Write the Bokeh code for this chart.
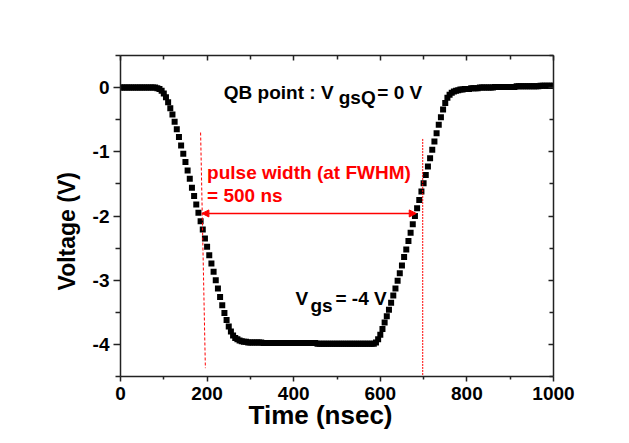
from bokeh.plotting import figure
from bokeh.models import (LinearAxis, FixedTicker, Range1d, Arrow, NormalHead, Title)
from bokeh.core.properties import value
from bokeh.embed import file_html
from bokeh.resources import INLINE

# ---------------- data ----------------
time_ns = [
    0, 5, 10, 15, 20, 25, 30, 35, 40, 45, 50, 55, 60, 65, 70, 75, 80,
    85, 90, 95, 100, 105, 110, 115, 120, 125, 130, 135, 140, 145, 150,
    155, 160, 165, 170, 175, 180, 185, 190, 195, 200, 205, 210, 215, 220,
    225, 230, 235, 240, 245, 250, 255, 260, 265, 270, 275, 280, 285, 290,
    295, 300, 305, 310, 315, 320, 325, 330, 335, 340, 345, 350, 355, 360,
    365, 370, 375, 380, 385, 390, 395, 400, 405, 410, 415, 420, 425, 430,
    435, 440, 445, 450, 455, 460, 465, 470, 475, 480, 485, 490, 495, 500,
    505, 510, 515, 520, 525, 530, 535, 540, 545, 550, 555, 560, 565, 570,
    575, 580, 585, 590, 595, 600, 605, 610, 615, 620, 625, 630, 635, 640,
    645, 650, 655, 660, 665, 670, 675, 680, 685, 690, 695, 700, 705, 710,
    715, 720, 725, 730, 735, 740, 745, 750, 755, 760, 765, 770, 775, 780,
    785, 790, 795, 800, 805, 810, 815, 820, 825, 830, 835, 840, 845, 850,
    855, 860, 865, 870, 875, 880, 885, 890, 895, 900, 905, 910, 915, 920,
    925, 930, 935, 940, 945, 950, 955, 960, 965, 970, 975, 980, 985, 990,
    995, 1000,
]
voltage = [
    0.00, 0.00, 0.00, 0.00, 0.00, 0.00, 0.00, 0.00, 0.00, 0.00, 0.00, 0.00, 0.00, 0.00, 0.00, 0.00, 0.00,
    -0.01, -0.02, -0.05, -0.09, -0.15, -0.23, -0.32, -0.42, -0.53, -0.65, -0.77, -0.90, -1.03, -1.16,
    -1.29, -1.42, -1.56, -1.69, -1.82, -1.95, -2.08, -2.21, -2.35, -2.48, -2.61, -2.74, -2.87, -3.00,
    -3.13, -3.26, -3.39, -3.51, -3.62, -3.72, -3.80, -3.86, -3.90, -3.92, -3.94, -3.95, -3.96, -3.96,
    -3.97, -3.97, -3.97, -3.97, -3.97, -3.97, -3.97, -3.98, -3.98, -3.98, -3.98, -3.98, -3.98, -3.98,
    -3.98, -3.98, -3.98, -3.98, -3.98, -3.98, -3.98, -3.98, -3.98, -3.98, -3.98, -3.98, -3.98, -3.98,
    -3.98, -3.98, -3.98, -3.98, -3.99, -3.99, -3.99, -3.99, -3.99, -3.99, -3.99, -3.99, -3.99, -3.99,
    -3.99, -3.99, -3.99, -3.99, -3.99, -3.99, -3.99, -3.99, -3.99, -3.99, -3.99, -3.99, -3.99, -3.99,
    -3.99, -3.99, -3.99, -3.97, -3.92, -3.85, -3.76, -3.66, -3.56, -3.46, -3.35, -3.24, -3.13, -3.01,
    -2.89, -2.77, -2.64, -2.52, -2.39, -2.26, -2.13, -2.00, -1.88, -1.75, -1.62, -1.49, -1.36, -1.23,
    -1.10, -0.97, -0.84, -0.71, -0.58, -0.46, -0.34, -0.24, -0.16, -0.11, -0.08, -0.06, -0.05, -0.04,
    -0.03, -0.03, -0.02, -0.02, -0.02, -0.01, -0.01, -0.01, -0.01, 0.00, 0.00, 0.00, 0.00, 0.00,
    0.00, 0.00, 0.01, 0.01, 0.01, 0.01, 0.01, 0.01, 0.01, 0.01, 0.01, 0.01, 0.02, 0.02, 0.02, 0.02,
    0.02, 0.02, 0.02, 0.02, 0.02, 0.02, 0.02, 0.03, 0.03, 0.03, 0.03, 0.03, 0.03, 0.03,
    0.03, 0.03,
]

x_major = [0, 200, 400, 600, 800, 1000]
x_minor = [100, 300, 500, 700, 900]
y_major = [-4, -3, -2, -1, 0]
y_minor = [-4.5, -3.5, -2.5, -1.5, -0.5, 0.5]

FONT = "Liberation Sans"
RED = "#ff0000"
AXC = "#222222"

p = figure(frame_width=433, frame_height=321,
           x_range=Range1d(0, 1000), y_range=Range1d(-4.5, 0.5),
           output_backend="svg", toolbar_location=None,
           min_border_left=120, min_border_top=55, min_border_right=70,
           min_border_bottom=66)
p.background_fill_color = "white"
p.border_fill_color = "white"
p.outline_line_color = None
p.grid.visible = False

# bottom axis
xa = p.xaxis[0]
xa.ticker = FixedTicker(ticks=x_major, minor_ticks=x_minor)
xa.axis_label = None
# left axis
ya = p.yaxis[0]
ya.ticker = FixedTicker(ticks=y_major, minor_ticks=y_minor)
ya.major_label_overrides = {v: str(v) for v in y_major}
ya.axis_label = None

for ax in (xa, ya):
    ax.axis_line_color = AXC
    ax.axis_line_width = 1.5
    ax.major_tick_line_color = AXC
    ax.minor_tick_line_color = AXC
    ax.major_tick_line_width = 1.5
    ax.minor_tick_line_width = 1.5
    ax.major_tick_in = 0
    ax.minor_tick_in = 0
    ax.major_label_text_font = FONT
    ax.major_label_text_font_style = "bold"
    ax.major_label_text_font_size = "19px"
    ax.major_label_text_color = "black"

xa.major_tick_out = 5
xa.minor_tick_out = 3
xa.major_label_standoff = 5
ya.major_tick_out = 7
ya.minor_tick_out = 5
ya.major_label_standoff = 4

top = LinearAxis(ticker=FixedTicker(ticks=x_major, minor_ticks=x_minor))
right = LinearAxis(ticker=FixedTicker(ticks=y_major, minor_ticks=y_minor))
top.major_label_overrides = {v: "" for v in x_major}
right.major_label_overrides = {v: "" for v in y_major}
for ax in (top, right):
    ax.axis_line_color = AXC
    ax.axis_line_width = 1.5
    ax.major_tick_line_color = AXC
    ax.minor_tick_line_color = AXC
    ax.major_tick_line_width = 1.5
    ax.minor_tick_line_width = 1.5
    ax.major_tick_out = 0
    ax.minor_tick_out = 0
    ax.major_tick_in = 5
    ax.minor_tick_in = 4
    ax.major_label_standoff = 0
p.add_layout(top, "above")
p.add_layout(right, "right")

ylab = Title(text="Voltage (V)", align="left", offset=86, standoff=20,
             text_font=FONT, text_font_style="bold", text_font_size="23px",
             text_color="black")
p.add_layout(ylab, "left")

xlab = Title(text="Time (nsec)", align="left", offset=128, standoff=-10,
             text_font=FONT, text_font_style="bold", text_font_size="26px",
             text_color="black")
p.add_layout(xlab, "below")

# data
p.scatter(time_ns, voltage, marker="square", size=6,
          fill_color="black", line_color=None)

# red guide lines
p.segment(x0=[185], y0=[-0.70], x1=[196], y1=[-4.37],
          line_color=RED, line_width=1, line_dash="3 2")
p.segment(x0=[698], y0=[-0.80], x1=[698], y1=[-4.5],
          line_color=RED, line_width=1, line_dash="2 1")
p.add_layout(Arrow(start=NormalHead(size=7, fill_color=RED, line_color=RED),
                   end=NormalHead(size=7, fill_color=RED, line_color=RED),
                   x_start=188, y_start=-1.96, x_end=683, y_end=-1.96,
                   line_color=RED, line_width=1.5))

# texts
def txt(x, y, s, color="black", size="19px"):
    p.text(x=[x], y=[y], text=[s], text_font=value(FONT), text_font_style="bold",
           text_font_size=size, text_color=color, text_align="left",
           text_baseline="alphabetic")

txt(238.6, -0.078, "QB point : V")
txt(504, -0.155, "gsQ")
txt(593, -0.078, "= 0 V")

txt(200, -1.32, "pulse width (at FWHM)", color=RED)
txt(200, -1.68, "= 500 ns", color=RED)

txt(404, -3.286, "V")
txt(438.8, -3.398, "gs")
txt(496.5, -3.286, "= -4 V")

open("out.html", "w").write(file_html(p, INLINE))
